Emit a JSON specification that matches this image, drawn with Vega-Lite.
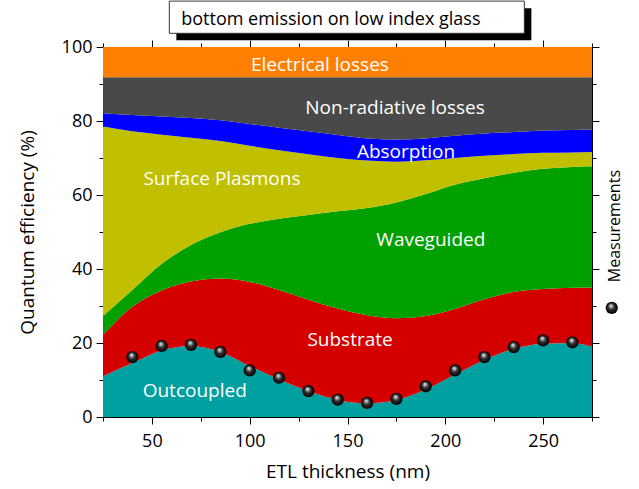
{
  "$schema": "https://vega.github.io/schema/vega-lite/v6.json",
  "width": 489,
  "height": 370,
  "autosize": {"type": "none"},
  "padding": {"left": 103, "top": 47, "right": 47, "bottom": 72},
  "background": "white",
  "config": {
    "view": {"stroke": null},
    "axis": {
      "grid": false,
      "domainColor": "black",
      "domainWidth": 1,
      "tickColor": "black",
      "tickWidth": 1,
      "tickSize": 7,
      "labelFont": "Open Sans",
      "labelFontSize": 18,
      "labelColor": "black",
      "titleFont": "Open Sans",
      "titleFontSize": 19,
      "titleFontWeight": "normal",
      "titleColor": "black"
    },
    "text": {"font": "Open Sans"}
  },
  "datasets": {
    "bounds": [
      {"x": 25, "oc": 11.0, "sub": 22.2, "wg": 27.3, "sp": 78.5, "abs": 82.1, "nr": 91.8, "el": 100},
      {"x": 40, "oc": 14.6, "sub": 29.8, "wg": 34.3, "sp": 77.2, "abs": 81.6, "nr": 91.8, "el": 100},
      {"x": 55, "oc": 18.0, "sub": 34.2, "wg": 41.4, "sp": 76.3, "abs": 81.2, "nr": 91.8, "el": 100},
      {"x": 70, "oc": 19.2, "sub": 36.6, "wg": 46.5, "sp": 75.5, "abs": 80.8, "nr": 91.8, "el": 100},
      {"x": 85, "oc": 17.6, "sub": 37.4, "wg": 49.9, "sp": 74.6, "abs": 80.2, "nr": 91.8, "el": 100},
      {"x": 100, "oc": 13.8, "sub": 36.5, "wg": 52.2, "sp": 73.3, "abs": 79.2, "nr": 91.8, "el": 100},
      {"x": 115, "oc": 10.2, "sub": 34.3, "wg": 53.6, "sp": 72.1, "abs": 78.2, "nr": 91.8, "el": 100},
      {"x": 130, "oc": 7.0, "sub": 31.7, "wg": 54.6, "sp": 71.0, "abs": 77.2, "nr": 91.8, "el": 100},
      {"x": 145, "oc": 4.6, "sub": 29.3, "wg": 55.6, "sp": 70.0, "abs": 76.2, "nr": 91.8, "el": 100},
      {"x": 160, "oc": 3.7, "sub": 27.5, "wg": 56.5, "sp": 69.3, "abs": 75.3, "nr": 91.8, "el": 100},
      {"x": 175, "oc": 4.6, "sub": 26.7, "wg": 58.0, "sp": 69.0, "abs": 75.0, "nr": 91.8, "el": 100},
      {"x": 190, "oc": 7.5, "sub": 27.3, "wg": 60.3, "sp": 69.4, "abs": 75.3, "nr": 91.8, "el": 100},
      {"x": 205, "oc": 11.5, "sub": 29.2, "wg": 62.8, "sp": 70.0, "abs": 76.0, "nr": 91.8, "el": 100},
      {"x": 220, "oc": 15.5, "sub": 31.8, "wg": 64.5, "sp": 70.6, "abs": 76.6, "nr": 91.8, "el": 100},
      {"x": 235, "oc": 18.4, "sub": 33.8, "wg": 66.0, "sp": 71.1, "abs": 77.0, "nr": 91.8, "el": 100},
      {"x": 250, "oc": 19.8, "sub": 34.6, "wg": 67.1, "sp": 71.4, "abs": 77.4, "nr": 91.8, "el": 100},
      {"x": 265, "oc": 19.9, "sub": 34.9, "wg": 67.6, "sp": 71.5, "abs": 77.6, "nr": 91.8, "el": 100},
      {"x": 275, "oc": 19.0, "sub": 35.0, "wg": 67.8, "sp": 71.6, "abs": 77.7, "nr": 91.8, "el": 100}
    ],
    "measurements": [
      {"x": 40, "qe": 16.2}, {"x": 55, "qe": 19.2}, {"x": 70, "qe": 19.5}, {"x": 85, "qe": 17.6},
      {"x": 100, "qe": 12.6}, {"x": 115, "qe": 10.6}, {"x": 130, "qe": 7.0}, {"x": 145, "qe": 4.7},
      {"x": 160, "qe": 3.8}, {"x": 175, "qe": 4.9}, {"x": 190, "qe": 8.3}, {"x": 205, "qe": 12.6},
      {"x": 220, "qe": 16.2}, {"x": 235, "qe": 18.9}, {"x": 250, "qe": 20.7}, {"x": 265, "qe": 20.2}
    ],
    "labels": [
      {"label": "Electrical losses", "x": 135.9, "y": 93.6},
      {"label": "Non-radiative losses", "x": 174.3, "y": 81.9},
      {"label": "Absorption", "x": 179.9, "y": 69.9},
      {"label": "Surface Plasmons", "x": 85.8, "y": 62.7},
      {"label": "Waveguided", "x": 192.6, "y": 46.2},
      {"label": "Substrate", "x": 151.3, "y": 19.3},
      {"label": "Outcoupled", "x": 71.9, "y": 5.5}
    ],
    "note": [{"text": "bottom emission on low index glass", "series": "Measurements"}]
  },
  "layer": [
    {
      "data": {"name": "bounds"},
      "mark": {"type": "area", "interpolate": "monotone", "color": "#00a0a0"},
      "encoding": {
        "x": {"field": "x", "type": "quantitative", "scale": {"domain": [25, 275], "nice": false, "zero": false},
              "axis": {"orient": "bottom", "values": [50, 100, 150, 200, 250], "title": "ETL thickness (nm)", "labelPadding": 8, "titlePadding": 12}},
        "y": {"field": "oc", "type": "quantitative", "scale": {"domain": [0, 100], "nice": false},
              "axis": {"orient": "left", "values": [0, 20, 40, 60, 80, 100], "title": "Quantum efficiency (%)", "labelPadding": 4, "titlePadding": 24}}
      }
    },
    {
      "data": {"name": "bounds"},
      "mark": {"type": "area", "interpolate": "monotone", "color": "#d40000"},
      "encoding": {
        "x": {"field": "x", "type": "quantitative", "axis": {"orient": "top", "values": [50, 100, 150, 200, 250], "labels": false, "title": null}},
        "y": {"field": "oc", "type": "quantitative", "axis": {"orient": "right", "values": [0, 20, 40, 60, 80, 100], "labels": false, "title": null}},
        "y2": {"field": "sub"}
      }
    },
    {
      "data": {"name": "bounds"},
      "mark": {"type": "area", "interpolate": "monotone", "color": "#00a000"},
      "encoding": {
        "x": {"field": "x", "type": "quantitative", "axis": {"orient": "bottom", "values": [25, 75, 125, 175, 225, 275], "labels": false, "title": null, "tickSize": 4, "domain": false}},
        "y": {"field": "sub", "type": "quantitative", "axis": {"orient": "left", "values": [10, 30, 50, 70, 90], "labels": false, "title": null, "tickSize": 4, "domain": false}},
        "y2": {"field": "wg"}
      }
    },
    {
      "data": {"name": "bounds"},
      "mark": {"type": "area", "interpolate": "monotone", "color": "#c0c000"},
      "encoding": {
        "x": {"field": "x", "type": "quantitative", "axis": {"orient": "top", "values": [25, 75, 125, 175, 225, 275], "labels": false, "title": null, "tickSize": 4, "domain": false}},
        "y": {"field": "wg", "type": "quantitative", "axis": {"orient": "right", "values": [10, 30, 50, 70, 90], "labels": false, "title": null, "tickSize": 4, "domain": false}},
        "y2": {"field": "sp"}
      }
    },
    {
      "data": {"name": "bounds"},
      "mark": {"type": "area", "interpolate": "monotone", "color": "#0000ff"},
      "encoding": {
        "x": {"field": "x", "type": "quantitative", "axis": null},
        "y": {"field": "sp", "type": "quantitative", "axis": null},
        "y2": {"field": "abs"}
      }
    },
    {
      "data": {"name": "bounds"},
      "mark": {"type": "area", "interpolate": "monotone", "color": "#494949"},
      "encoding": {
        "x": {"field": "x", "type": "quantitative", "axis": null},
        "y": {"field": "abs", "type": "quantitative", "axis": null},
        "y2": {"field": "nr"}
      }
    },
    {
      "data": {"name": "bounds"},
      "mark": {"type": "area", "interpolate": "monotone", "color": "#ff8000"},
      "encoding": {
        "x": {"field": "x", "type": "quantitative", "axis": null},
        "y": {"field": "nr", "type": "quantitative", "axis": null},
        "y2": {"field": "el"}
      }
    },
    {
      "data": {"name": "labels"},
      "mark": {"type": "text", "color": "white", "fontSize": 19, "align": "center", "baseline": "alphabetic"},
      "encoding": {
        "x": {"field": "x", "type": "quantitative", "axis": null},
        "y": {"field": "y", "type": "quantitative", "axis": null},
        "text": {"field": "label"}
      }
    },
    {
      "data": {"name": "measurements"},
      "mark": {"type": "point", "filled": true, "size": 150, "opacity": 1,
               "color": {"gradient": "radial", "x1": 0.42, "y1": 0.3, "r1": 0, "x2": 0.5, "y2": 0.5, "r2": 0.5,
                         "stops": [{"offset": 0, "color": "#ffffff"}, {"offset": 0.2, "color": "#b0b0b0"}, {"offset": 0.5, "color": "#303030"}, {"offset": 1, "color": "#000000"}]}},
      "encoding": {
        "x": {"field": "x", "type": "quantitative", "axis": null},
        "y": {"field": "qe", "type": "quantitative", "axis": null}
      }
    },
    {
      "data": {"name": "note"},
      "mark": {"type": "rect", "color": "black", "opacity": 1},
      "encoding": {
        "x": {"datum": 62.5, "type": "quantitative", "axis": null}, "x2": {"datum": 244.0},
        "y": {"datum": 110.5, "type": "quantitative", "axis": null}, "y2": {"datum": 101.8}
      }
    },
    {
      "data": {"name": "note"},
      "mark": {"type": "rect", "fill": "white", "stroke": "#333333", "strokeWidth": 1, "opacity": 1},
      "encoding": {
        "x": {"datum": 58.9, "type": "quantitative", "axis": null}, "x2": {"datum": 240.4},
        "y": {"datum": 112.4, "type": "quantitative", "axis": null}, "y2": {"datum": 103.7}
      }
    },
    {
      "data": {"name": "note"},
      "mark": {"type": "text", "fontSize": 18, "color": "black", "align": "left", "baseline": "alphabetic"},
      "encoding": {
        "x": {"datum": 65.0, "type": "quantitative", "axis": null},
        "y": {"datum": 105.9, "type": "quantitative", "axis": null},
        "text": {"field": "text"}
      }
    },
    {
      "data": {"name": "note"},
      "mark": {"type": "point", "filled": true, "size": 150, "opacity": 1,
               "color": {"gradient": "radial", "x1": 0.42, "y1": 0.3, "r1": 0, "x2": 0.5, "y2": 0.5, "r2": 0.5,
                         "stops": [{"offset": 0, "color": "#ffffff"}, {"offset": 0.2, "color": "#b0b0b0"}, {"offset": 0.5, "color": "#303030"}, {"offset": 1, "color": "#000000"}]}},
      "encoding": {
        "x": {"datum": 285.1, "type": "quantitative", "axis": null},
        "y": {"datum": 29.5, "type": "quantitative", "axis": null}
      }
    },
    {
      "data": {"name": "note"},
      "mark": {"type": "text", "fontSize": 16, "color": "black", "angle": 270, "align": "center", "baseline": "middle"},
      "encoding": {
        "x": {"datum": 286.8, "type": "quantitative", "axis": null},
        "y": {"datum": 51.6, "type": "quantitative", "axis": null},
        "text": {"field": "series"}
      }
    }
  ],
  "resolve": {"axis": {"x": "independent", "y": "independent"}}
}
